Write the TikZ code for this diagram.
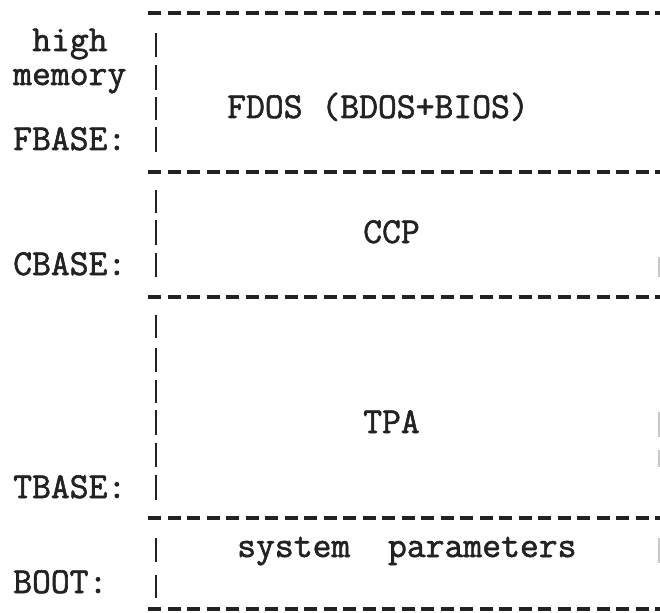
\documentclass[tikz,border=0pt]{standalone}
\usepackage{fontspec}
\newfontfamily\twfont{Latin Modern Mono}[FakeBold=1.6]
\definecolor{ink}{HTML}{222222}
\definecolor{faint}{HTML}{C8C8C8}
\tikzset{
  lbl/.style={inner sep=0pt, anchor=base west, text=ink, font=\twfont\fontsize{36.6}{36.6}\selectfont},
  rule/.style={draw=ink, line width=3.5pt, dash pattern=on 13pt off 6.5pt},
  bar/.style={draw=ink, line width=2.8pt},
  faintbar/.style={draw=faint, line width=2pt}
}
\begin{document}
\begin{tikzpicture}[x=1pt,y=-1pt]
\useasboundingbox (0,0) rectangle (660,612);
\begin{scope}
\clip (0,0) rectangle (660,612);
% horizontal dashed rules
\foreach \yy in {13,172,297,518,609}{
  \draw[rule] (148,\yy) -- (670,\yy);
}
% left vertical bars
\foreach \ya/\yb in {33/57,65/90,97/120,127/152,190/213,220/245,253/277,315/338,348/372,380/403,410/435,443/467,475/500,538/562,575/598}{
  \draw[bar] (156,\ya) -- (156,\yb);
}
% faint right-edge bars
\foreach \ya/\yb in {257/277,412/437,450/467,538/563}{
  \draw[faintbar] (659,\ya) -- (659,\yb);
}
\end{scope}
% labels
\node[lbl] (high) at (32,51) {high};
\node[lbl] (mem) at (13,85) {memory};
\node[lbl] (fbase) at (13,150) {FBASE:};
\node[lbl] (cbase) at (13,275) {CBASE:};
\node[lbl] (tbase) at (13,498) {TBASE:};
\node[lbl] (boot) at (13,593) {BOOT:};
\node[lbl] (fdos) at (227,118) {FDOS (BDOS+BIOS)};
\node[lbl] (ccp) at (363,243) {CCP};
\node[lbl] (tpa) at (363,433) {TPA};
\node[lbl] (sys) at (237,557) {system~~parameters};
\end{tikzpicture}
\end{document}
